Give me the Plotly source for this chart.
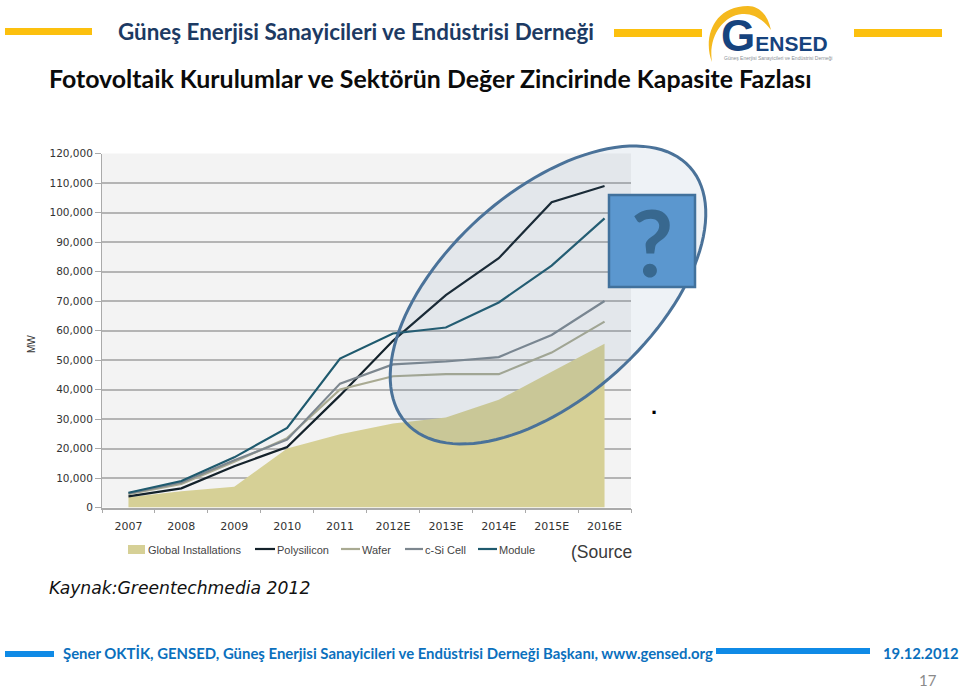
import numpy as np
import plotly.graph_objects as go

years = ["2007", "2008", "2009", "2010", "2011", "2012E", "2013E", "2014E", "2015E", "2016E"]
global_installations = [3500, 5500, 7000, 20000, 24800, 28500, 30500, 36500, 46000, 55500]
polysilicon = [3800, 6500, 14000, 20500, 38000, 56500, 72000, 84500, 103500, 109000]
wafer = [4500, 8000, 15500, 23500, 40000, 44500, 45200, 45200, 52500, 63000]
csi_cell = [4800, 8500, 16000, 23000, 42000, 48500, 49500, 51000, 58500, 70000]
module = [5000, 9000, 17000, 27000, 50500, 59000, 61000, 69500, 82000, 98000]
y_ticks = list(range(0, 120001, 10000))

W, H = 960, 689
X = lambda p: p / W
Y = lambda p: 1 - p / H

fig = go.Figure()
fig.add_trace(go.Scatter(x=years, y=global_installations, name="Global Installations", mode="lines",
                         fill="tozeroy", fillcolor="#d6d096", line=dict(width=0, color="#d6d096"), showlegend=False))
line_series = [("Polysilicon", polysilicon, "#14222b"), ("Wafer", wafer, "#a9aa92"),
               ("c-Si Cell", csi_cell, "#7d878f"), ("Module", module, "#1f5a6e")]
for name, vals, col in line_series:
    fig.add_trace(go.Scatter(x=years, y=vals, name=name, mode="lines", line=dict(width=2.2, color=col), showlegend=False))

shapes = []
def rect(x0, y0, x1, y1, fill, line=None, lw=0):
    shapes.append(dict(type="rect", xref="paper", yref="paper", x0=X(x0), x1=X(x1), y0=Y(y0), y1=Y(y1),
                       fillcolor=fill, line=dict(color=line or fill, width=lw)))

for b in [(5, 28, 92, 35), (614, 29, 702, 37), (854, 29, 942, 37)]:
    rect(*b, "#fcc00e")
for b in [(5, 651, 54, 657), (716, 648, 870, 654)]:
    rect(*b, "#0f8ae6")

# highlight ellipse
t = np.linspace(0, 2 * np.pi, 121)
cx, cy, a, b, th = 548, 295, 191, 103, np.radians(-42)
ex = cx + a * np.cos(t) * np.cos(th) - b * np.sin(t) * np.sin(th)
ey = cy + a * np.cos(t) * np.sin(th) + b * np.sin(t) * np.cos(th)
path = "M " + " L ".join(f"{X(u):.5f},{Y(v):.5f}" for u, v in zip(ex, ey)) + " Z"
shapes.append(dict(type="path", xref="paper", yref="paper", path=path,
                   fillcolor="rgba(90,130,170,0.10)", line=dict(color="#4a7299", width=3)))
rect(609, 195, 695, 287, "#5b97cf", "#41719c", 2.5)

# logo crescent
pts = ("M {} C {} {} {} C {} {} {} C {} {} {} C {} {} {} Z").format(*[
    f"{X(u):.5f},{Y(v):.5f}" for u, v in [(712, 62), (703, 40), (712, 6), (748, 6), (760, 6), (768, 16),
                                         (771, 30), (762, 18), (752, 13), (742, 14), (722, 16), (708, 38), (712, 62)]])
shapes.append(dict(type="path", xref="paper", yref="paper", path=pts, fillcolor="#f5b91e", line=dict(width=0)))

def txt(s, x, y, size, color, family="Lato", anchor="left", bold=False, italic=False, angle=0):
    return dict(text=f"<b>{s}</b>" if bold else (f"<i>{s}</i>" if italic else s), x=X(x), y=Y(y),
                xref="paper", yref="paper", xanchor=anchor, yanchor="middle", showarrow=False, textangle=angle,
                borderpad=0, font=dict(family=family, size=size, color=color))

ann = [
    txt("Güneş Enerjisi Sanayicileri ve Endüstrisi Derneği", 117, 31, 22.4, "#1c3a63", bold=True),
    txt("Fotovoltaik Kurulumlar ve Sektörün Değer Zincirinde Kapasite Fazlası", 48, 77.5, 24.9, "#0b0b0b", bold=True),
    txt("G<span style='font-size:21px'>ENSED</span>", 720, 36, 44, "#16437e", "Liberation Sans", bold=True),
    txt("Güneş Enerjisi Sanayicileri ve Endüstrisi Derneği", 723, 58, 5, "#8a8f96", "Liberation Sans"),
    txt("MW", 31, 344, 10, "#333333", "Liberation Sans", anchor="center", angle=-90),
    txt("?", 652, 241, 92, "#38688f", "Lato", anchor="center", bold=True),
    txt(".", 654, 406, 22, "#000000", "Liberation Sans", anchor="center", bold=True),
    txt("(Source", 570, 552, 17.5, "#3a3a3a", "Liberation Sans"),
    txt("Kaynak:Greentechmedia 2012", 48, 588, 17.2, "#111111", "DejaVu Sans", italic=True),
    txt("Şener OKTİK, GENSED, Güneş Enerjisi Sanayicileri ve Endüstrisi Derneği Başkanı, www.gensed.org",
        62, 653, 14.9, "#0b70bd", bold=True),
    txt("19.12.2012", 882, 653, 14.8, "#0b70bd", bold=True),
    txt("17", 918, 680, 15, "#8a8a8a"),
]

# legend row
rect(128, 545, 145, 554, "#d6d096")
ann.append(txt("Global Installations", 147, 550, 11, "#444444", "Liberation Sans"))
for (name, _, col), x0, x1 in zip(line_series, [255, 341, 405, 478], [275, 360, 423, 497]):
    shapes.append(dict(type="line", xref="paper", yref="paper", x0=X(x0), x1=X(x1), y0=Y(549), y1=Y(549),
                       line=dict(color=col, width=2.2)))
    ann.append(txt(name, x1 + 1, 550, 11, "#444444", "Liberation Sans"))

fig.update_layout(
    width=W, height=H, margin=dict(l=0, r=0, t=0, b=0, autoexpand=False), autosize=False, showlegend=False,
    paper_bgcolor="#ffffff", plot_bgcolor="#f3f3f3",
    shapes=shapes, annotations=ann, font=dict(family="DejaVu Sans", color="#333333", size=11),
    xaxis=dict(domain=[X(102), X(631)], type="category", range=[-0.5, 9.5], tickson="boundaries",
               ticks="outside", ticklen=4, tickcolor="#aaaaaa", showgrid=False, showline=True,
               linecolor="#aaaaaa", linewidth=1.5, tickfont=dict(size=11, color="#333333"),
               ticklabelstandoff=8, fixedrange=True),
    yaxis=dict(domain=[Y(507.5), Y(153.5)], range=[0, 120000], tickvals=y_ticks, tickformat=",",
               ticks="outside", ticklen=6, tickcolor="#aaaaaa", gridcolor="#b4b4b4", gridwidth=1.5,
               showline=True, linecolor="#aaaaaa", zeroline=False, tickfont=dict(size=10.5, color="#333333"), fixedrange=True),
)
fig.write_html("out.html", config=dict(displayModeBar=False), post_script="document.body.style.margin='0';")
